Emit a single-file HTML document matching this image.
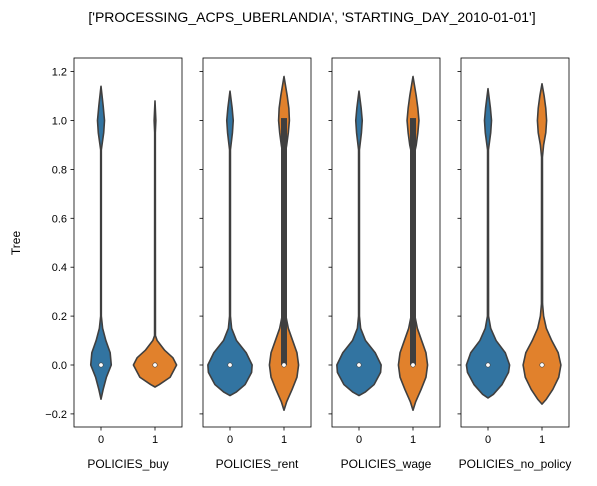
<!DOCTYPE html>
<html><head><meta charset="utf-8"><style>
body{margin:0;background:#fff;font-family:"Liberation Sans","DejaVu Sans",sans-serif;}
</style></head><body>
<svg id="chart" width="597" height="481" xmlns="http://www.w3.org/2000/svg" font-family="Liberation Sans, DejaVu Sans, sans-serif">
<text x="312" y="22" font-size="14" text-anchor="middle">['PROCESSING_ACPS_UBERLANDIA', 'STARTING_DAY_2010-01-01']</text>
<text transform="translate(20,243) rotate(-90)" font-size="12" text-anchor="middle">Tree</text>
</svg>
<script>
const panelLabels = ["POLICIES_buy","POLICIES_rent","POLICIES_wage","POLICIES_no_policy"];
const categories = ["0","1"];
const yTicks = [-0.2,0.0,0.2,0.4,0.6,0.8,1.0,1.2];
const yTickLabels = ["−0.2","0.0","0.2","0.4","0.6","0.8","1.0","1.2"];
// violin profiles: [panel][cat] -> y levels and half-widths (category units)
const ysBuy0 = [-0.14,-0.1,-0.05,0,0.05,0.1,0.15,0.2,0.88,0.95,1.0,1.06,1.14];
const wsBuy0 = [0,0.04,0.1,0.19,0.17,0.09,0.03,0.006,0.006,0.05,0.065,0.04,0];
const ysBuy1 = [-0.09,-0.08,-0.05,0,0.03,0.06,0.1,0.12,0.95,1.0,1.08];
const wsBuy1 = [0,0.08,0.28,0.4,0.33,0.18,0.04,0.008,0.006,0.016,0];
const ysRent0 = [-0.125,-0.11,-0.08,-0.03,0,0.05,0.1,0.15,0.2,0.88,0.95,1.0,1.05,1.12];
const wsRent0 = [0,0.12,0.28,0.4,0.41,0.3,0.12,0.03,0.008,0.008,0.045,0.06,0.04,0];
const ysRent1 = [-0.185,-0.15,-0.1,-0.05,0,0.05,0.1,0.15,0.2,0.3,0.85,0.9,0.95,1.0,1.05,1.1,1.18];
const wsRent1 = [0,0.05,0.15,0.24,0.27,0.24,0.16,0.08,0.035,0.012,0.012,0.05,0.08,0.1,0.09,0.06,0];
const ysWage0 = [-0.125,-0.11,-0.08,-0.03,0,0.05,0.1,0.15,0.2,0.88,0.95,1.0,1.05,1.12];
const wsWage0 = [0,0.12,0.28,0.4,0.41,0.3,0.12,0.03,0.008,0.008,0.045,0.06,0.04,0];
const ysWage1 = [-0.185,-0.15,-0.1,-0.05,0,0.05,0.1,0.15,0.2,0.3,0.85,0.9,0.95,1.0,1.05,1.1,1.18];
const wsWage1 = [0,0.05,0.15,0.24,0.27,0.24,0.16,0.08,0.035,0.012,0.012,0.06,0.09,0.11,0.09,0.06,0];
const ysNone0 = [-0.135,-0.12,-0.08,-0.03,0,0.05,0.1,0.15,0.2,0.88,0.95,1.0,1.05,1.13];
const wsNone0 = [0,0.1,0.26,0.38,0.4,0.32,0.15,0.05,0.01,0.008,0.05,0.065,0.045,0];
const ysNone1 = [-0.16,-0.14,-0.1,-0.05,0,0.05,0.1,0.15,0.2,0.25,0.85,0.9,0.95,1.0,1.05,1.1,1.15];
const wsNone1 = [0,0.08,0.2,0.31,0.35,0.3,0.18,0.08,0.03,0.01,0.008,0.03,0.07,0.085,0.07,0.04,0];
const boxQ1 = [[0,0],[0,0],[0,0],[0,0]];
const boxQ3 = [[0,0],[0,1.01],[0,1.01],[0,0]];
const medians = [[0,0],[0,0],[0,0],[0,0]];

const profiles = [[[ysBuy0,wsBuy0],[ysBuy1,wsBuy1]],[[ysRent0,wsRent0],[ysRent1,wsRent1]],[[ysWage0,wsWage0],[ysWage1,wsWage1]],[[ysNone0,wsNone0],[ysNone1,wsNone1]]];
const svg = document.getElementById('chart');
const NS = 'http://www.w3.org/2000/svg';
const top0 = 58, bot0 = 427, pw = 108, lefts = [74,203,332,461];
const yScale = v => 365 - v * 244.5;
const colors = ['#3274a1','#e1812c'];
function el(tag, attrs, parent){const e=document.createElementNS(NS,tag);for(const k in attrs)e.setAttribute(k,attrs[k]);(parent||svg).appendChild(e);return e;}

panelLabels.forEach((lab, p) => {
  const L = lefts[p];
  const xScale = c => L + pw * (c + 0.5) / 2;
  const unit = pw / 2;
  const g = el('g', {});
  
  
  // y ticks
  yTicks.forEach((t, i) => {
    const y = yScale(t);
    const tk = el('line', {x1: L - 3.5, x2: L, y1: y, y2: y, stroke: '#000', 'stroke-width': 0.8}, g);
    
    
    if (p === 0) {
      const tx = el('text', {x: L - 7, y: y + 4, 'font-size': 11, 'text-anchor': 'end'}, g);
      tx.textContent = yTickLabels[i];
      
      
    }
  });
  categories.forEach((c, ci) => {
    const cx = xScale(ci);
    const [ys, ws] = profiles[p][ci];
    let d = '';
    for (let i = 0; i < ys.length; i++) d += (i ? 'L' : 'M') + (cx + ws[i] * unit) + ',' + yScale(ys[i]);
    for (let i = ys.length - 1; i >= 0; i--) d += 'L' + (cx - ws[i] * unit) + ',' + yScale(ys[i]);
    d += 'Z';
    const v = el('path', {d, fill: colors[ci], stroke: '#3f3f3f', 'stroke-width': 1.6, 'stroke-linejoin': 'round'}, g);
    
    
    const q1 = boxQ1[p][ci], q3 = boxQ3[p][ci];
    if (q3 > q1) {
      const b = el('rect', {x: cx - 3, y: yScale(q3), width: 6, height: yScale(q1) - yScale(q3), fill: '#3f3f3f'}, g);
      
      
    }
    const m = el('circle', {cx, cy: yScale(medians[p][ci]), r: 2.2, fill: '#fff', stroke: '#3f3f3f', 'stroke-width': 0.6}, g);
    
    
    const xt = el('line', {x1: cx, x2: cx, y1: bot0, y2: bot0 + 3.5, stroke: '#000', 'stroke-width': 0.8}, g);
    
    
    const xl = el('text', {x: cx, y: bot0 + 16, 'font-size': 11, 'text-anchor': 'middle'}, g);
    xl.textContent = c;
    
    
  });
  const fr = el('rect', {x: L, y: top0, width: pw, height: bot0 - top0, fill: 'none', stroke: '#000', 'stroke-width': 0.8}, g);
  
  
  const al = el('text', {x: L + pw / 2, y: 468, 'font-size': 12, 'text-anchor': 'middle'}, g);
  al.textContent = lab;
  
  
});
</script>
</body></html>
